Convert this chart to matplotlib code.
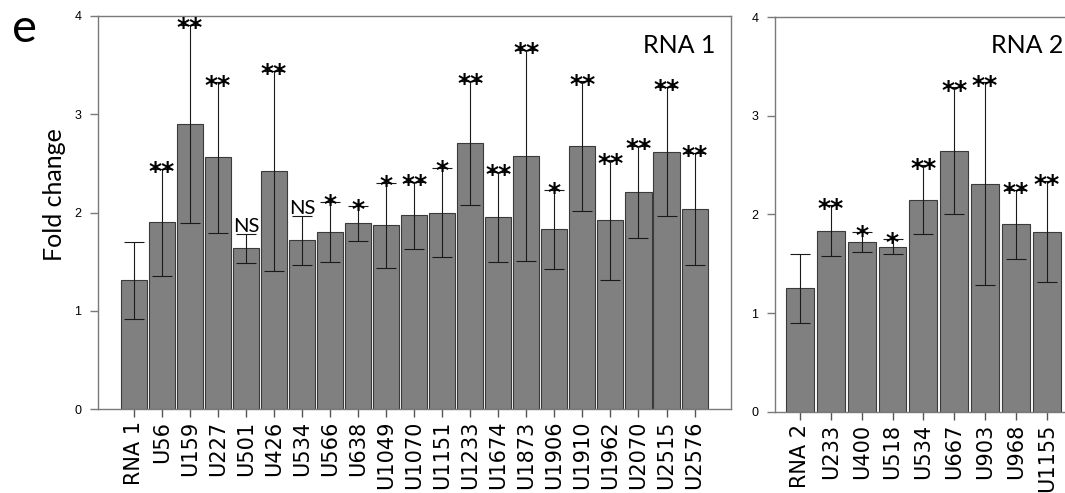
import numpy as np
import matplotlib
matplotlib.use("Agg")
import matplotlib.pyplot as plt

# RNA 1 panel
labels1 = ["RNA 1", "U56", "U159", "U227", "U501", "U426", "U534", "U566", "U638",
           "U1049", "U1070", "U1151", "U1233", "U1674", "U1873", "U1906", "U1910",
           "U1962", "U2070", "U2515", "U2576"]
fold1 = [1.31, 1.90, 2.90, 2.56, 1.635, 2.42, 1.717, 1.805, 1.89,
         1.87, 1.97, 2.00, 2.71, 1.954, 2.58, 1.83, 2.674,
         1.92, 2.21, 2.62, 2.04]
err1 = [0.39, 0.545, 1.01, 0.765, 0.145, 1.02, 0.25, 0.305, 0.175,
        0.43, 0.34, 0.455, 0.63, 0.46, 1.075, 0.40, 0.66,
        0.61, 0.47, 0.66, 0.57]
sig1 = ["", "**", "**", "**", "NS", "**", "NS", "*", "*",
        "*", "**", "*", "**", "**", "**", "*", "**",
        "**", "**", "**", "**"]

# RNA 2 panel
labels2 = ["RNA 2", "U233", "U400", "U518", "U534", "U667", "U903", "U968", "U1155"]
fold2 = [1.25, 1.833, 1.718, 1.674, 2.147, 2.647, 2.31, 1.90, 1.826]
err2 = [0.35, 0.26, 0.10, 0.075, 0.35, 0.64, 1.03, 0.35, 0.51]
sig2 = ["", "**", "*", "*", "**", "**", "**", "**", "**"]

W, H = 1065, 493
fig = plt.figure(figsize=(W / 100, H / 100), dpi=100)

ax1 = fig.add_axes([98 / W, (H - 409) / H, 633 / W, 393 / H])
ax2 = fig.add_axes([775 / W, (H - 411.7) / H, 297 / W, 394.7 / H])


def draw(ax, labels, vals, errs, sigs, width, xlim):
    x = np.arange(len(labels))
    ax.bar(x, vals, width=width, color="#808080", edgecolor="#3a3a3a", linewidth=0.8,
           yerr=errs, error_kw=dict(ecolor="#1a1a1a", elinewidth=0.8, capsize=7,
                                    capthick=0.8))
    for xi, v, e, s in zip(x, vals, errs, sigs):
        if s == "NS":
            ax.annotate("NS", xy=(xi, v + e), xytext=(0, 1.5), textcoords="offset points",
                        ha="center", va="baseline", fontsize=14.5, family="Lato",
                        annotation_clip=False)
        elif s:
            ax.annotate(s, xy=(xi, v + e), xytext=(0, -7.5),
                        textcoords="offset points", ha="center", va="baseline",
                        fontsize=18, family="DejaVu Sans", fontweight="bold",
                        annotation_clip=False)
    ax.set_xlim(*xlim)
    ax.set_ylim(0, 4)
    ax.set_yticks([0, 1, 2, 3, 4])
    ax.set_xticks(x)
    ax.set_xticklabels(labels, rotation=90)
    for lab in ax.get_xticklabels():
        lab.set_fontsize(15)
        lab.set_fontfamily("DejaVu Sans")
    for lab in ax.get_yticklabels():
        lab.set_fontsize(9)
        lab.set_fontfamily("Liberation Sans")
    for sp in ax.spines.values():
        sp.set_color("#7a7a7a")
        sp.set_linewidth(1.0)
    ax.tick_params(axis="y", length=6, width=1, color="#7a7a7a", pad=6)
    ax.tick_params(axis="x", length=5.5, width=1, color="#555555", pad=3)


draw(ax1, labels1, fold1, err1, sig1, 0.93, (-1.28, 21.3))
draw(ax2, labels2, fold2, err2, sig2, 0.9, (-0.81, 8.82))

fig.text(55 / W, 1 - 195 / H, "Fold change", rotation=90, ha="center", va="center",
         fontsize=18, family="Lato")
fig.text(12 / W, 1 - 42 / H, "e", ha="left", va="baseline", fontsize=34, family="Lato")
fig.text(715 / W, 1 - 53 / H, "RNA 1", ha="right", va="baseline", fontsize=18, family="Lato")
fig.text(1063 / W, 1 - 53 / H, "RNA 2", ha="right", va="baseline", fontsize=18, family="Lato")

fig.savefig("out.png", dpi=100)
